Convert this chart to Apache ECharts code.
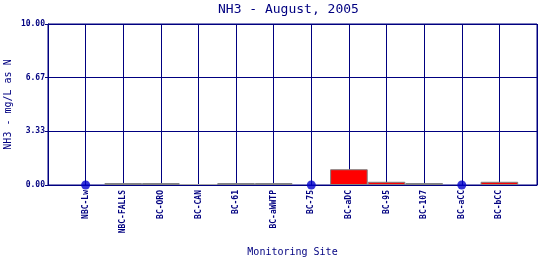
<!DOCTYPE html>
<html><head><meta charset="utf-8">
<script src="https://cdn.jsdelivr.net/npm/echarts@6/dist/echarts.min.js"></script>
<style>html,body{margin:0;padding:0;background:#fff}#c{width:540px;height:260px}</style>
</head><body><div id="c"></div>
<script>
const categories = ['NBC-Lw','NBC-FALLS','BC-ORO','BC-CAN','BC-61','BC-aWWTP','BC-75','BC-aDC','BC-95','BC-107','BC-aCC','BC-bCC'];
const barValues = [null, 0.12, 0.12, 0.06, 0.12, 0.12, null, 0.98, 0.2, 0.12, null, 0.2];
const barKinds  = ['', 'low', 'low', 'zero', 'low', 'low', '', 'high', 'high', 'low', '', 'high'];
const pointValues = [0, null, null, null, null, null, 0, null, null, null, 0, null];

const NAVY = '#000080';
const FONT = 'DejaVu Sans Mono';
const kindStyle = {
  low:  {color:'#808080', borderColor:'#808080', borderWidth:1},
  zero: {color:'#a8a8a8', borderColor:'#a8a8a8', borderWidth:0},
  high: {color:'#ff0000', borderColor:'#808080', borderWidth:1}
};
const cats = [''].concat(categories, ['']);
const barData = [null].concat(barValues.map((v,i)=> v==null ? null : {value:v, itemStyle:kindStyle[barKinds[i]]}), [null]);
const ptData = [null].concat(pointValues, [null]);

const chart = echarts.init(document.getElementById('c'), null, {renderer:'canvas'});
chart.setOption({
  animation:false,
  backgroundColor:'#fff',
  title:{text:'NH3 - August, 2005', left:218, top:3, padding:0,
    textStyle:{fontFamily:FONT, fontSize:13, fontWeight:'normal', color:NAVY}},
  grid:{left:48, right:3, top:24, bottom:75, containLabel:false, outerBoundsMode:'none',
    show:true, borderColor:NAVY, borderWidth:1},
  xAxis:{type:'category', data:cats, boundaryGap:false,
    name:'Monitoring Site', nameLocation:'middle', nameGap:62, nameMoveOverlap:false,
    nameTextStyle:{fontFamily:FONT, fontSize:10, color:NAVY},
    axisLine:{show:true, lineStyle:{color:NAVY, width:1}},
    axisTick:{show:false},
    splitLine:{show:true, interval:0, lineStyle:{color:NAVY, width:1}},
    axisLabel:{interval:0, rotate:90, margin:5, fontFamily:FONT, fontSize:8, fontWeight:'bold', color:NAVY}},
  yAxis:{type:'value', min:0, max:10, interval:10/3,
    name:'NH3 - mg/L as N', nameLocation:'middle', nameRotate:90, nameGap:35, nameMoveOverlap:false,
    nameTextStyle:{fontFamily:FONT, fontSize:10, color:NAVY},
    axisLine:{show:true, lineStyle:{color:NAVY, width:1}},
    axisTick:{show:true, length:3, inside:false, lineStyle:{color:NAVY}},
    splitLine:{show:true, lineStyle:{color:NAVY, width:1}},
    axisLabel:{margin:3, fontFamily:FONT, fontSize:8, fontWeight:'bold', color:NAVY,
      formatter:v=>v.toFixed(2)}},
  series:[
    {type:'bar', data:barData, barWidth:'100%', z:3},
    {type:'scatter', data:ptData, symbol:'circle', symbolSize:9, z:5,
      itemStyle:{color:'#0000cc'}}
  ]
});
</script></body></html>
